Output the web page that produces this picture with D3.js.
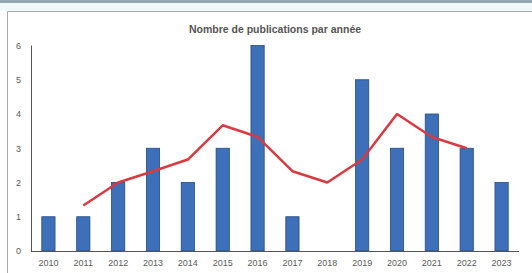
<!DOCTYPE html>
<html>
<head>
<meta charset="utf-8">
<script src="https://cdn.jsdelivr.net/npm/d3@7"></script>
<style>
  body { margin: 0; background: #fff; }
  svg { display: block; }
</style>
</head>
<body>
<script>
const years = ["2010","2011","2012","2013","2014","2015","2016","2017","2018","2019","2020","2021","2022","2023"]
const counts = [1, 1, 2, 3, 2, 3, 6, 1, 0, 5, 3, 4, 3, 2]
// moyenne mobile (ligne rouge)
const trendYears = ["2011","2012","2013","2014","2015","2016","2017","2018","2019","2020","2021","2022"]
const trendValues = [1.33, 2, 2.33, 2.67, 3.67, 3.33, 2.33, 2, 2.67, 4, 3.33, 3]
const yTicks = [0, 1, 2, 3, 4, 5, 6]

const width = 532, height = 273
const svg = d3.select("body").append("svg")
    .attr("width", width)
    .attr("height", height)

// cadre
svg.append("rect").attr("x", 0).attr("y", 0).attr("width", width).attr("height", 3).attr("fill", "#94a7b2")
svg.append("rect").attr("x", 0).attr("y", 3).attr("width", width).attr("height", 8).attr("fill", "#f1f8fa")
svg.append("path")
    .attr("d", `M7.5,${height} V11.5 H${width}`)
    .attr("fill", "none")
    .attr("stroke", "#a8a8a8")
    .attr("stroke-width", 1)

const x = d3.scaleBand()
    .domain(years)
    .range([31, 519])
    .paddingInner(0.62)
    .paddingOuter(0.31)

const y = d3.scaleLinear()
    .domain([0, 6])
    .range([251, 45.5])

svg.append("text")
    .attr("x", 275)
    .attr("y", 33)
    .attr("text-anchor", "middle")
    .attr("font-family", "Liberation Sans, Arial, sans-serif")
    .attr("font-size", 10.5)
    .attr("font-weight", "bold")
    .attr("fill", "#555")
    .text("Nombre de publications par année")

svg.selectAll("rect.bar")
    .data(counts)
    .enter()
    .append("rect")
    .attr("class", "bar")
    .attr("x", (d, i) => x(years[i]))
    .attr("y", d => y(d))
    .attr("width", x.bandwidth())
    .attr("height", d => y(0) - y(d))
    .attr("fill", "#3d70b8")
    .attr("stroke", "#27497e")
    .attr("stroke-width", 0.8)

const line = d3.line()
    .x((d, i) => x(trendYears[i]) + x.bandwidth() / 2)
    .y(d => y(d))

svg.append("path")
    .datum(trendValues)
    .attr("d", line)
    .attr("fill", "none")
    .attr("stroke", "#d83a42")
    .attr("stroke-width", 2.5)
    .attr("stroke-linejoin", "round")

const yAxis = svg.append("g")
    .attr("transform", "translate(31,0)")
    .call(d3.axisLeft(y).tickValues(yTicks).tickSize(0).tickPadding(10).tickFormat(d3.format("d")))
yAxis.select(".domain").attr("stroke", "#555").attr("d", `M0.5,${y(6)}V${y(0)}`)

const xAxis = svg.append("g")
    .attr("transform", `translate(0,${y(0)})`)
    .call(d3.axisBottom(x).tickSize(0).tickPadding(9))
xAxis.select(".domain").attr("stroke", "#555").attr("d", `M31,0.5H519`)

svg.selectAll(".tick text")
    .attr("font-family", "Liberation Sans, Arial, sans-serif")
    .attr("font-size", 9)
    .attr("fill", "#5a5a5a")
</script>
</body>
</html>
